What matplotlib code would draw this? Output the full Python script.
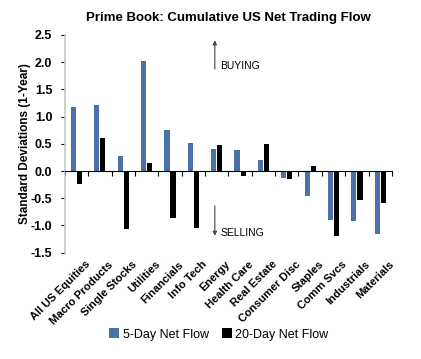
import matplotlib
matplotlib.use("Agg")
import matplotlib.pyplot as plt
import numpy as np

plt.rcParams['font.family'] = ['Liberation Sans', 'DejaVu Sans']

categories = ["All US Equities", "Macro Products", "Single Stocks", "Utilities",
              "Financials", "Info Tech", "Energy", "Health Care", "Real Estate",
              "Consumer Disc", "Staples", "Comm Svcs", "Industrials", "Materials"]
flow_5d = [1.18, 1.22, 0.27, 2.02, 0.76, 0.51, 0.41, 0.38, 0.21,
           -0.12, -0.45, -0.90, -0.91, -1.15]
flow_20d = [-0.23, 0.61, -1.07, 0.15, -0.86, -1.05, 0.48, -0.09, 0.50,
            -0.15, 0.10, -1.20, -0.53, -0.58]

blue = "#4a72a8"

fig = plt.figure(figsize=(4.21, 3.59), dpi=100)
ax = fig.add_axes([0.154, 0.296, 0.777, 0.607])

x = np.arange(len(categories))
w = 0.22
ax.bar(x - 0.13, flow_5d, w, color=blue, label="5-Day Net Flow")
ax.bar(x + 0.13, flow_20d, w, color="black", label="20-Day Net Flow")

ax.set_xlim(-0.5, len(categories) - 0.5)
ax.set_ylim(-1.5, 2.5)
yt = np.arange(-1.5, 2.51, 0.5)
ax.set_yticks(yt)
ax.set_yticklabels(["%.1f" % v for v in yt], fontsize=9, fontweight="bold")
ax.set_ylabel("Standard Deviations (1-Year)", fontsize=8.5, fontweight="bold",
              labelpad=0)

for s in ["top", "right"]:
    ax.spines[s].set_visible(False)
ax.spines["left"].set_color("#c8c8c8")
ax.spines["left"].set_linewidth(1.2)
ax.spines["bottom"].set_position(("data", 0))
ax.spines["bottom"].set_color("black")
ax.tick_params(axis="y", length=3, color="black", pad=6)

# boundary ticks on the zero line, labels placed separately
ax.set_xticks(np.arange(-0.5, len(categories), 1.0))
ax.set_xticklabels([])
ax.tick_params(axis="x", direction="out", length=3.5, color="black")
for i, c in enumerate(categories):
    ax.text(i + 0.35, -1.62, c, rotation=45, ha="right", va="top",
            fontsize=8, fontweight="bold", rotation_mode="anchor")

ax.annotate("", xy=(5.92, 2.45), xytext=(5.92, 1.82),
            arrowprops=dict(arrowstyle="-|>", color="#444444", lw=0.8,
                            mutation_scale=6))
ax.text(6.15, 1.93, "BUYING", fontsize=7.5, va="center")
ax.annotate("", xy=(5.92, -1.24), xytext=(5.92, -0.59),
            arrowprops=dict(arrowstyle="-|>", color="#444444", lw=0.8,
                            mutation_scale=6))
ax.text(6.15, -1.14, "SELLING", fontsize=7.5, va="center")

ax.set_title("Prime Book: Cumulative US Net Trading Flow", fontsize=9.5,
             fontweight="bold", pad=10)

fig.legend(loc="lower center", bbox_to_anchor=(0.52, 0.02), ncol=2,
           frameon=False, fontsize=9, handlelength=0.8, handleheight=0.8,
           handletextpad=0.3, columnspacing=1.0)

fig.savefig("out.png", dpi=100)
